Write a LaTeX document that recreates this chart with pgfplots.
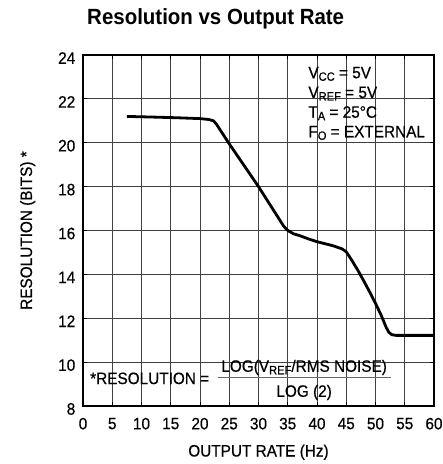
\documentclass[border=0pt]{standalone}
\usepackage{fontspec}
\setmainfont{Liberation Sans}[FakeStretch=0.93, FakeBold=0.5]
\newfontfamily\titlefont{Liberation Sans}[FakeStretch=0.93]
\usepackage{pgfplots}
\pgfplotsset{compat=1.18}

\newcommand\txt{\fontsize{16.5bp}{19.7bp}\selectfont}
\newcommand\sub[1]{\raisebox{-2.5bp}{\fontsize{12bp}{12bp}\selectfont #1}}

\pgfplotsset{layers/mylayers/.define layer set={axis background,axis grid,boxes,axis ticks,axis lines,axis tick labels,main,axis descriptions,axis foreground}{}}

\begin{document}
\begin{tikzpicture}
\begin{axis}[
  name=ax, set layers=mylayers,
  scale only axis, width=351bp, height=351bp,
  xmin=0, xmax=60, ymin=8, ymax=24,
  xtick={0,5,...,60}, ytick={8,10,...,24},
  grid=major, major grid style={black!75, line width=0.9bp},
  axis line style={black, line width=1.3bp},
  major tick length=4bp, tick style={black, line width=0.9bp},
  tick align=inside,
  ticklabel style={font=\txt},
  /pgf/number format/assume math mode=true,
  xticklabel style={yshift=-8.3bp},
  yticklabel style={xshift=-4.2bp, yshift=-3bp},
  xlabel={OUTPUT RATE (Hz)},
  ylabel={RESOLUTION (BITS) *},
  label style={font=\txt},
  xlabel style={at={(axis description cs:0.5,0)}, anchor=base, yshift=-50.5bp},
  ylabel style={at={(axis description cs:0,0.5)}, anchor=base, yshift=51bp},
  title={Resolution vs Output Rate},
  title style={font=\titlefont\bfseries\fontsize{22bp}{22bp}\selectfont, at={(axis description cs:0.378,1.0712)}, anchor=base},
]
\begin{pgfonlayer}{boxes}
\fill[white] (axis cs:37.6,19.7) rectangle (axis cs:60,24);
\fill[white] (axis cs:0,8) rectangle (axis cs:52.8,10.64);
\end{pgfonlayer}

\addplot[black, line width=2.8bp, line join=round] coordinates {
(7.5,21.2) (12,21.17) (16,21.14) (20,21.1) (21.5,21.06) (22.3,21.0) (22.8,20.85)
(25,19.95) (30,18.0) (34.3,16.2) (35,16.0) (36,15.85) (37.1,15.76) (38.5,15.62)
(40,15.49) (42.8,15.3) (44.3,15.16) (45,15.03) (46,14.62) (47,14.18) (48,13.7)
(49,13.2) (50,12.68) (51,12.12) (51.8,11.6) (52.3,11.35) (52.8,11.25) (53.5,11.22) (60,11.22)
};

\node[anchor=base west, inner sep=0, font=\txt] at (axis cs:38.5,22.94) {V\sub{CC} = 5V};
\node[anchor=base west, inner sep=0, font=\txt] at (axis cs:38.5,22.04) {V\sub{REF} = 5V};
\node[anchor=base west, inner sep=0, font=\txt] at (axis cs:38.5,21.14) {T\sub{A} = 25°C};
\node[anchor=base west, inner sep=0, font=\txt] at (axis cs:38.5,20.25) {F\sub{O} = EXTERNAL};

\node[anchor=base west, inner sep=0, font=\txt] at (axis cs:1.2,9.0) {*RESOLUTION =};
\node[anchor=base, inner sep=0, font=\txt] at (axis cs:37.8,9.56) {LOG(V\sub{REF}/RMS NOISE)};
\node[anchor=base, inner sep=0, font=\txt] at (axis cs:37.8,8.42) {LOG (2)};
\draw[black!60, line width=1bp] (axis cs:23.08,9.28) -- (axis cs:52.65,9.28);
\end{axis}
\pgfresetboundingbox
\path[use as bounding box] ([xshift=-83bp,yshift=-58bp]ax.south west) rectangle ([xshift=360bp,yshift=406bp]ax.south west);
\end{tikzpicture}
\end{document}
